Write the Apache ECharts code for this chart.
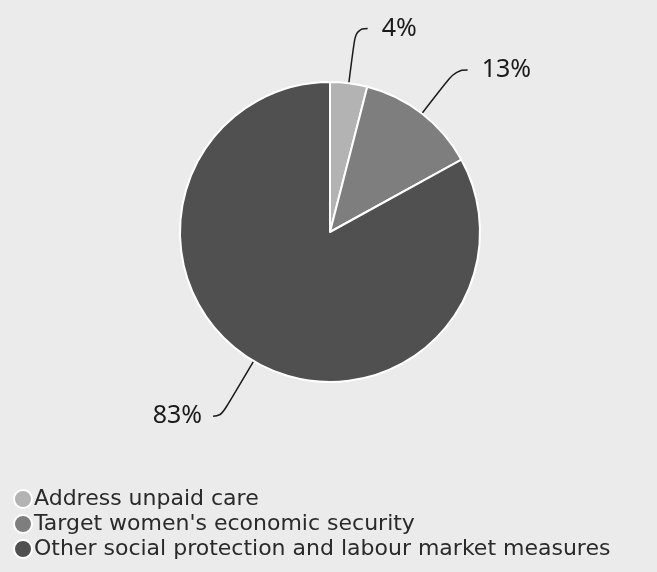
<!DOCTYPE html>
<html>
<head>
<meta charset="utf-8">
<script src="https://cdn.jsdelivr.net/npm/echarts@6/dist/echarts.min.js"></script>
<style>
html,body{margin:0;padding:0;background:#ebebeb;}
#c{width:657px;height:572px;}
</style>
</head>
<body>
<div id="c"></div>
<script>
var categories = ["Address unpaid care", "Target women's economic security", "Other social protection and labour market measures"];
var values = [4, 13, 83];
var colors = ["#b3b3b3", "#7e7e7e", "#505050"];
var lineLengths = [55, 55, 64];
var lineLengths2 = [12, 12, 8];
var labelGaps = [14, 14, 11];

var chart = echarts.init(document.getElementById('c'), null, {renderer: 'canvas'});
chart.setOption({
  backgroundColor: '#ebebeb',
  animation: false,
  color: colors,
  legend: {
    orient: 'vertical',
    left: 8,
    top: 483,
    itemGap: 3,
    itemWidth: 18,
    itemHeight: 18,
    icon: 'circle',
    textStyle: {fontFamily: 'DejaVu Sans', fontSize: 22, lineHeight: 21.5, color: '#2a2a2a', padding: [0,0,0,-3]},
    data: categories
  },
  series: [{
    type: 'pie',
    center: [330, 232],
    radius: [0, 150],
    startAngle: 90,
    clockwise: true,
    itemStyle: {borderColor: '#ffffff', borderWidth: 2},
    label: {
      show: true,
      position: 'outside',
      formatter: '{c}%',
      fontFamily: 'Noto Sans',
      fontSize: 25,
      color: '#1a1a1a',
      distanceToLabelLine: 14
    },
    labelLine: {
      show: true,
      smooth: 0.5,
      length: 55,
      length2: 12,
      lineStyle: {color: '#1a1a1a', width: 1.5}
    },
    data: categories.map(function (n, i) {
      return {
        name: n, value: values[i],
        label: {distanceToLabelLine: labelGaps[i]},
        labelLine: {length: lineLengths[i], length2: lineLengths2[i]}
      };
    })
  }]
});
</script>
</body>
</html>
